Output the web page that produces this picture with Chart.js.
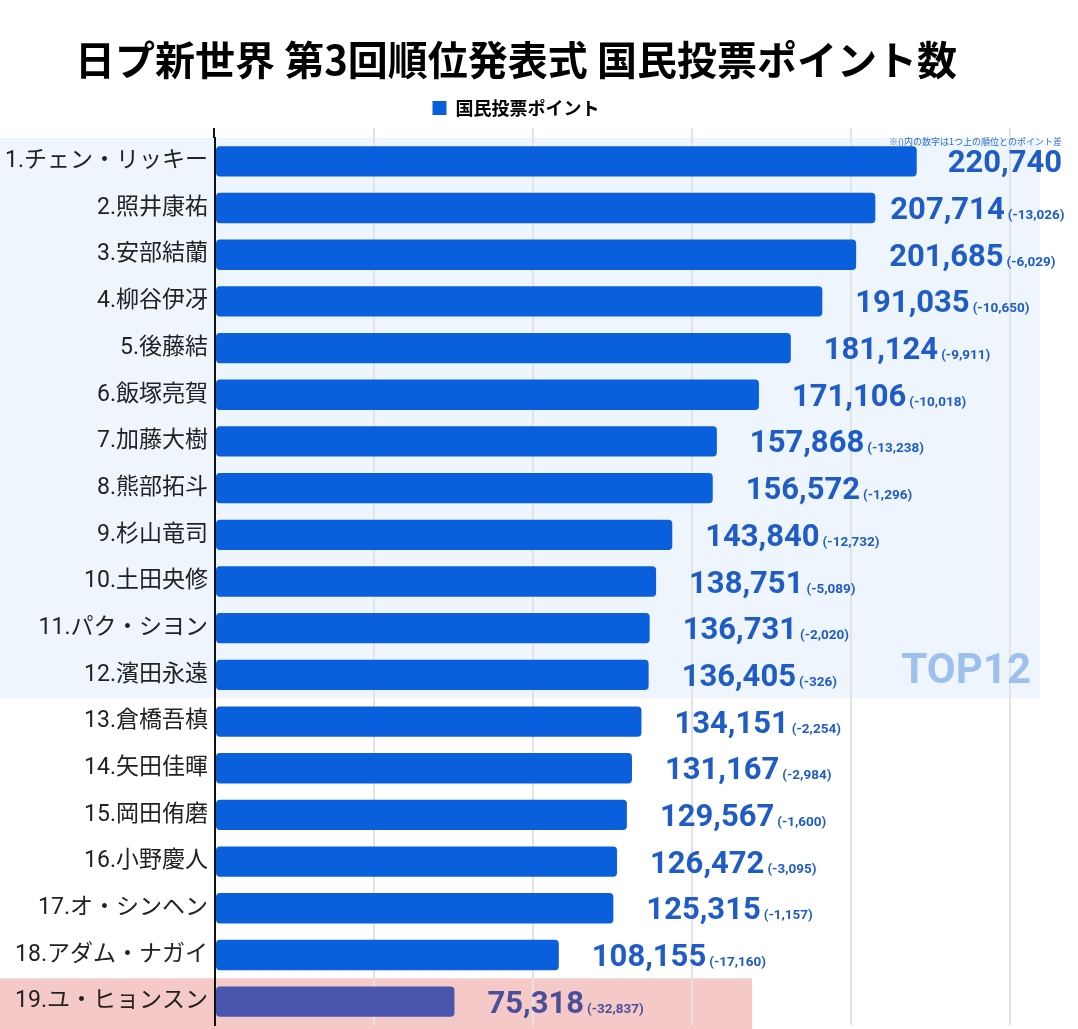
<!DOCTYPE html>
<html>
<head>
<meta charset="utf-8">
<script src="https://cdn.jsdelivr.net/npm/chart.js@4.4.0/dist/chart.umd.min.js"></script>
<style>
  body { margin: 0; background: #fff; }
  #wrap { width: 1078px; height: 1029px; position: relative; }
</style>
</head>
<body>
<div id="wrap"><canvas id="myChart"></canvas></div>
<script>
// ranking names
var names = ["1.チェン・リッキー", "2.照井康祐", "3.安部結蘭", "4.柳谷伊冴", "5.後藤結",
             "6.飯塚亮賀", "7.加藤大樹", "8.熊部拓斗", "9.杉山竜司", "10.土田央修",
             "11.パク・シヨン", "12.濱田永遠", "13.倉橋吾槙", "14.矢田佳暉", "15.岡田侑磨",
             "16.小野慶人", "17.オ・シンヘン", "18.アダム・ナガイ", "19.ユ・ヒョンスン"];
var points = [220740, 207714, 201685, 191035, 181124, 171106, 157868, 156572, 143840, 138751,
              136731, 136405, 134151, 131167, 129567, 126472, 125315, 108155, 75318];
// difference to the rank above
var diffs = [null, -13026, -6029, -10650, -9911, -10018, -13238, -1296, -12732, -5089,
             -2020, -326, -2254, -2984, -1600, -3095, -1157, -17160, -32837];
var xTicks = [0, 50000, 100000, 150000, 200000, 250000];

var blue = '#0a5fdc';
var lastColor = '#4a56ae';

function fmt(n) {
  return n.toLocaleString('en-US');
}

// bands, labels and notes
var decorate = {
  id: 'decorate',
  beforeDraw: function(chart) {
    var ctx = chart.ctx;
    var y = chart.scales.y;
    var x = chart.scales.x;
    var step = y.getPixelForValue(1) - y.getPixelForValue(0);
    ctx.save();
    ctx.fillStyle = '#eef5fc';
    var t = y.getPixelForValue(0) - step / 2;
    var b = y.getPixelForValue(11) + step / 2;
    ctx.fillRect(0, t, 1040, b - t);
    ctx.fillStyle = '#f5c9c8';
    var t2 = y.getPixelForValue(18) - step / 2;
    ctx.fillRect(0, t2, 752, chart.height - t2);
    // grid lines run a bit above the plot
    ctx.strokeStyle = '#e3e3e3';
    ctx.lineWidth = 2;
    xTicks.forEach(function(v) {
      if (v == 0) return;
      var px = x.getPixelForValue(v);
      ctx.beginPath();
      ctx.moveTo(px, 128);
      ctx.lineTo(px, chart.chartArea.top);
      ctx.stroke();
    });
    ctx.restore();
  },
  afterDraw: function(chart) {
    var ctx = chart.ctx;
    var meta = chart.getDatasetMeta(0);
    ctx.save();
    // axis line up top
    ctx.strokeStyle = '#111';
    ctx.lineWidth = 2;
    ctx.beginPath();
    ctx.moveTo(chart.chartArea.left - 1, 128);
    ctx.lineTo(chart.chartArea.left - 1, chart.chartArea.top);
    ctx.stroke();

    ctx.textBaseline = 'alphabetic';
    ctx.textAlign = 'left';
    meta.data.forEach(function(bar, i) {
      var col = i == 18 ? '#4a4f9c' : '#1f5cc6';
      var gap = i == 0 ? 31 : (i == 1 ? 15 : 33);
      var xx = bar.x + gap;
      var yy = bar.y + 11;
      ctx.fillStyle = col;
      ctx.font = 'bold 31px Roboto, "Noto Sans CJK JP"';
      var s = fmt(points[i]);
      ctx.fillText(s, xx, yy);
      if (diffs[i] != null) {
        var w = ctx.measureText(s).width;
        ctx.font = 'bold 13.5px Roboto, "Noto Sans CJK JP"';
        ctx.fillText('(' + fmt(diffs[i]) + ')', xx + w + 3, yy);
      }
    });

    ctx.fillStyle = '#2b6fd2';
    ctx.font = '9px "Noto Sans CJK JP"';
    ctx.textAlign = 'right';
    ctx.fillText('※()内の数字は1つ上の順位とのポイント差', 1062, 145);

    ctx.fillStyle = '#9dc0ee';
    ctx.font = 'bold 42px Roboto';
    ctx.textBaseline = 'middle';
    ctx.fillText('TOP12', 1031, 672);
    ctx.restore();
  }
};

function createChart() {
  var ctx = document.getElementById('myChart').getContext('2d');
  var chart = new Chart(ctx, {
    type: 'bar',
    data: {
      labels: names,
      datasets: [{
        label: '国民投票ポイント',
        data: points,
        backgroundColor: points.map(function(v, i) { return i == 18 ? lastColor : blue; }),
        barPercentage: 0.65,
        categoryPercentage: 1,
        borderRadius: 4,
        borderSkipped: false
      }]
    },
    options: {
      indexAxis: 'y',
      responsive: true,
      maintainAspectRatio: false,
      animation: false,
      layout: { padding: { left: 0, right: 46, top: 0, bottom: 4 } },
      plugins: {
        title: {
          display: true,
          text: '日プ新世界 第3回順位発表式 国民投票ポイント数',
          color: '#000',
          font: { size: 40, weight: 'bold', family: '"Noto Sans CJK JP"' },
          padding: { top: 36, bottom: 4 }
        },
        legend: {
          labels: {
            color: '#555',
            boxWidth: 14,
            boxHeight: 14,
            padding: 11,
            font: { size: 18, weight: 'bold', family: '"Noto Sans CJK JP"' },
            generateLabels: function(c) {
              return [{ text: '国民投票ポイント', fillStyle: blue, strokeStyle: blue, lineWidth: 0, datasetIndex: 0 }];
            }
          }
        },
        tooltip: { enabled: false }
      },
      scales: {
        x: {
          position: 'top',
          min: 0,
          max: 257000,
          afterFit: function(scale) { scale.height = 11; },
          afterBuildTicks: function(scale) {
            scale.ticks = xTicks.map(function(v) { return { value: v }; });
          },
          ticks: { display: false },
          grid: { color: '#e3e3e3', lineWidth: 2, drawTicks: false },
          border: { display: false }
        },
        y: {
          afterFit: function(scale) {
            scale.width = 215;
            scale.paddingTop = 0;
            scale.paddingBottom = 0;
          },
          ticks: {
            color: '#222',
            padding: 7,
            font: { size: 23, family: 'Roboto, "Noto Sans CJK JP"' }
          },
          grid: { display: false, drawTicks: false },
          border: { display: true, color: '#111', width: 2 }
        }
      }
    },
    plugins: [decorate]
  });
}

createChart();
</script>
</body>
</html>
